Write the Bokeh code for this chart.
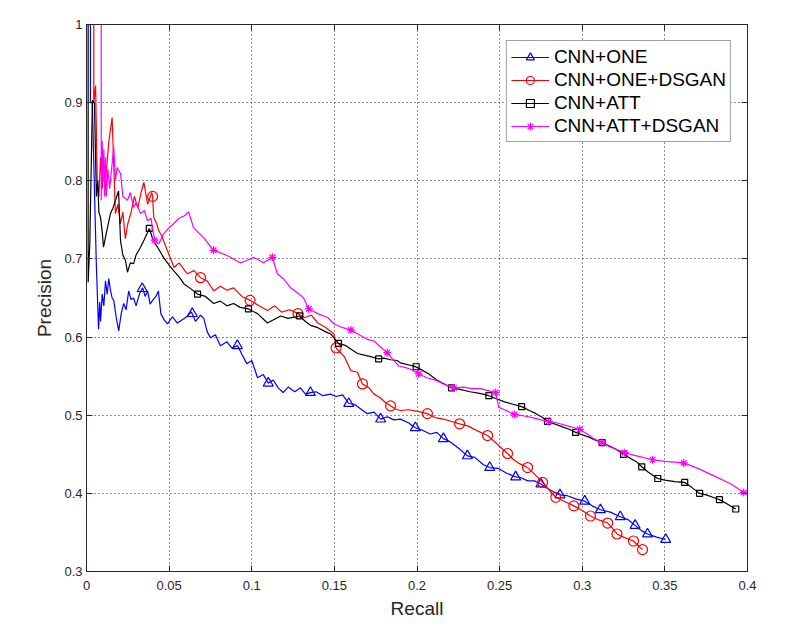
from bokeh.plotting import figure
from bokeh.models import LinearAxis, Range1d, FixedTicker, Legend
from bokeh.embed import file_html
from bokeh.resources import INLINE

# ---------------- data ----------------
x_ticks = [0, 0.05, 0.1, 0.15, 0.2, 0.25, 0.3, 0.35, 0.4]
y_ticks = [0.3, 0.4, 0.5, 0.6, 0.7, 0.8, 0.9, 1.0]
x_tick_labels = ["0", "0.05", "0.1", "0.15", "0.2", "0.25", "0.3", "0.35", "0.4"]
y_tick_labels = ["0.3", "0.4", "0.5", "0.6", "0.7", "0.8", "0.9", "1"]

series_names = ["CNN+ONE", "CNN+ONE+DSGAN", "CNN+ATT", "CNN+ATT+DSGAN"]

# CNN+ONE
one_recall = [0.0024, 0.0024, 0.0035, 0.0055, 0.006, 0.0073, 0.0080, 0.0085, 0.0095, 0.0105,
              0.0115, 0.0125, 0.0135, 0.0145, 0.0155, 0.0165, 0.018, 0.0195, 0.021, 0.0225,
              0.024, 0.0255, 0.027, 0.0285, 0.030, 0.032, 0.034, 0.0355, 0.037, 0.0385,
              0.040, 0.042, 0.0435, 0.045, 0.047, 0.049, 0.052, 0.055, 0.057, 0.060,
              0.0635, 0.066, 0.069, 0.071, 0.073, 0.075, 0.078, 0.081, 0.085, 0.088,
              0.0915, 0.094, 0.097, 0.100, 0.1035, 0.107, 0.110, 0.113, 0.116, 0.119,
              0.122, 0.126, 0.1295, 0.1325, 0.1355, 0.139, 0.143, 0.1477, 0.151, 0.155,
              0.1587, 0.162, 0.166, 0.170, 0.174, 0.178, 0.182, 0.186, 0.190, 0.195,
              0.199, 0.203, 0.208, 0.212, 0.216, 0.220, 0.225, 0.2305, 0.235, 0.240,
              0.244, 0.249, 0.254, 0.2597, 0.263, 0.267, 0.271, 0.275, 0.280, 0.2865,
              0.291, 0.296, 0.3015, 0.306, 0.311, 0.317, 0.323, 0.328, 0.332, 0.336,
              0.3395, 0.345, 0.3505]
one_precision = [1.0, 0.90, 0.90, 0.73, 0.69, 0.61, 0.645, 0.62, 0.655, 0.64,
                 0.672, 0.655, 0.675, 0.660, 0.650, 0.647, 0.625, 0.608, 0.630, 0.643,
                 0.635, 0.659, 0.648, 0.650, 0.640, 0.655, 0.663, 0.652, 0.659, 0.642,
                 0.647, 0.652, 0.659, 0.630, 0.622, 0.617, 0.626, 0.618, 0.621, 0.625,
                 0.632, 0.620, 0.628, 0.624, 0.607, 0.599, 0.603, 0.589, 0.594, 0.586,
                 0.589, 0.578, 0.566, 0.570, 0.548, 0.552, 0.541, 0.545, 0.535, 0.529,
                 0.536, 0.530, 0.535, 0.527, 0.529, 0.530, 0.525, 0.527, 0.524, 0.526,
                 0.515, 0.514, 0.508, 0.502, 0.504, 0.495, 0.498, 0.494, 0.495, 0.490,
                 0.484, 0.481, 0.476, 0.478, 0.470, 0.466, 0.458, 0.448, 0.446, 0.437,
                 0.433, 0.432, 0.426, 0.421, 0.420, 0.416, 0.416, 0.412, 0.405, 0.398,
                 0.397, 0.393, 0.390, 0.384, 0.379, 0.376, 0.370, 0.366, 0.359, 0.352,
                 0.348, 0.344, 0.341]
one_mark_recall = [0.0337, 0.064, 0.0913, 0.110, 0.1355, 0.1587, 0.178, 0.199, 0.216, 0.2305,
                   0.244, 0.2597, 0.275, 0.2865, 0.3015, 0.311, 0.323, 0.332, 0.3395, 0.3505]
one_mark_precision = [0.662, 0.630, 0.589, 0.541, 0.529, 0.515, 0.495, 0.484, 0.470, 0.448,
                      0.433, 0.421, 0.412, 0.398, 0.390, 0.379, 0.370, 0.359, 0.348, 0.341]

# CNN+ONE+DSGAN
one_gan_recall = [0.0044, 0.0044, 0.0055, 0.0065, 0.0075, 0.0085, 0.0095, 0.0105, 0.0115, 0.0135,
                  0.0155, 0.0175, 0.019, 0.0205, 0.0220, 0.0235, 0.025, 0.027, 0.029, 0.031,
                  0.033, 0.0347, 0.037, 0.0395, 0.0400, 0.0407, 0.0425, 0.0437, 0.0455, 0.0467,
                  0.050, 0.053, 0.056, 0.061, 0.065, 0.069, 0.073, 0.077, 0.081, 0.085,
                  0.089, 0.094, 0.099, 0.1045, 0.1095, 0.114, 0.118, 0.123, 0.128, 0.132,
                  0.136, 0.140, 0.145, 0.1497, 0.151, 0.156, 0.160, 0.164, 0.167, 0.171,
                  0.174, 0.178, 0.181, 0.184, 0.187, 0.190, 0.195, 0.2005, 0.2063, 0.211,
                  0.216, 0.221, 0.2258, 0.231, 0.2365, 0.2427, 0.247, 0.251, 0.2548, 0.258,
                  0.262, 0.2669, 0.271, 0.276, 0.280, 0.284, 0.289, 0.2949, 0.300, 0.305,
                  0.310, 0.3154, 0.318, 0.321, 0.326, 0.331, 0.334, 0.3365]
one_gan_precision = [1.0, 0.90, 0.922, 0.80, 0.78, 0.83, 0.79, 0.82, 0.80, 0.85,
                     0.881, 0.758, 0.77, 0.745, 0.760, 0.726, 0.745, 0.76, 0.78, 0.765,
                     0.785, 0.798, 0.770, 0.785, 0.780, 0.753, 0.745, 0.736, 0.730, 0.723,
                     0.705, 0.689, 0.695, 0.681, 0.685, 0.676, 0.672, 0.659, 0.665, 0.660,
                     0.663, 0.652, 0.647, 0.640, 0.634, 0.640, 0.632, 0.635, 0.630, 0.625,
                     0.628, 0.618, 0.612, 0.604, 0.586, 0.575, 0.557, 0.555, 0.540, 0.535,
                     0.527, 0.522, 0.516, 0.512, 0.508, 0.506, 0.507, 0.505, 0.502, 0.497,
                     0.495, 0.492, 0.489, 0.486, 0.480, 0.474, 0.466, 0.458, 0.451, 0.444,
                     0.438, 0.433, 0.425, 0.414, 0.404, 0.395, 0.390, 0.384, 0.378, 0.371,
                     0.366, 0.362, 0.356, 0.348, 0.343, 0.339, 0.333, 0.328]
one_gan_mark_recall = [0.040, 0.069, 0.099, 0.128, 0.151, 0.167, 0.184, 0.2063, 0.2258, 0.2427,
                       0.2548, 0.2669, 0.276, 0.284, 0.2949, 0.305, 0.3154, 0.321, 0.331, 0.3365]
one_gan_mark_precision = [0.780, 0.676, 0.647, 0.630, 0.586, 0.540, 0.512, 0.502, 0.489, 0.474,
                          0.451, 0.433, 0.414, 0.395, 0.384, 0.371, 0.362, 0.348, 0.339, 0.328]

# CNN+ATT
att_recall = [0.001, 0.001, 0.002, 0.0036, 0.0048, 0.006, 0.0068, 0.0075, 0.0085, 0.0095,
              0.0103, 0.0115, 0.0127, 0.0145, 0.016, 0.0175, 0.0194, 0.0206, 0.022, 0.0236,
              0.0248, 0.0265, 0.0285, 0.030, 0.0327, 0.035, 0.038, 0.0405, 0.043, 0.0466,
              0.050, 0.0527, 0.056, 0.059, 0.063, 0.0672, 0.072, 0.077, 0.081, 0.085,
              0.089, 0.093, 0.098, 0.1035, 0.1095, 0.1175, 0.122, 0.129, 0.1325, 0.1356,
              0.140, 0.1445, 0.1477, 0.1525, 0.157, 0.161, 0.164, 0.168, 0.172, 0.1768,
              0.180, 0.184, 0.188, 0.190, 0.1995, 0.198, 0.202, 0.207, 0.212, 0.2165,
              0.2209, 0.226, 0.232, 0.238, 0.2435, 0.248, 0.253, 0.258, 0.2633, 0.268,
              0.272, 0.276, 0.279, 0.283, 0.288, 0.292, 0.296, 0.300, 0.304, 0.308,
              0.312, 0.316, 0.320, 0.325, 0.329, 0.333, 0.336, 0.340, 0.3457, 0.350,
              0.356, 0.362, 0.366, 0.371, 0.375, 0.379, 0.383, 0.388, 0.3929]
att_precision = [1.0, 0.67, 0.72, 0.903, 0.899, 0.78, 0.80, 0.76, 0.753, 0.735,
                 0.715, 0.728, 0.740, 0.758, 0.765, 0.775, 0.787, 0.723, 0.705, 0.698,
                 0.683, 0.695, 0.694, 0.705, 0.715, 0.725, 0.739, 0.723, 0.715, 0.702,
                 0.692, 0.685, 0.677, 0.668, 0.662, 0.655, 0.652, 0.643, 0.646, 0.640,
                 0.643, 0.638, 0.636, 0.630, 0.618, 0.627, 0.624, 0.627, 0.620, 0.615,
                 0.612, 0.607, 0.604, 0.592, 0.589, 0.583, 0.579, 0.577, 0.575, 0.572,
                 0.573, 0.571, 0.570, 0.567, 0.562, 0.563, 0.559, 0.553, 0.545, 0.540,
                 0.535, 0.533, 0.530, 0.528, 0.525, 0.521, 0.517, 0.514, 0.511, 0.506,
                 0.502, 0.497, 0.492, 0.489, 0.485, 0.482, 0.478, 0.475, 0.472, 0.468,
                 0.465, 0.461, 0.457, 0.450, 0.445, 0.440, 0.434, 0.427, 0.419, 0.417,
                 0.415, 0.414, 0.408, 0.400, 0.398, 0.395, 0.392, 0.386, 0.380]
att_mark_recall = [0.038, 0.0672, 0.098, 0.129, 0.1525, 0.1768, 0.1995, 0.2209, 0.2435, 0.2633,
                   0.279, 0.296, 0.312, 0.325, 0.336, 0.3457, 0.362, 0.371, 0.383, 0.3929]
att_mark_precision = [0.739, 0.655, 0.636, 0.627, 0.592, 0.572, 0.562, 0.535, 0.525, 0.511,
                      0.492, 0.478, 0.465, 0.450, 0.434, 0.419, 0.414, 0.400, 0.392, 0.380]

# CNN+ATT+DSGAN
att_gan_recall = [0.0089, 0.0089, 0.0095, 0.0100, 0.0105, 0.011, 0.0115, 0.012, 0.013, 0.014,
                  0.0165, 0.0175, 0.0185, 0.0206, 0.022, 0.0248, 0.0265, 0.0285, 0.030, 0.0327,
                  0.035, 0.0369, 0.039, 0.0412, 0.0437, 0.0466, 0.050, 0.0527, 0.056, 0.059,
                  0.0618, 0.0648, 0.068, 0.071, 0.0769, 0.081, 0.0853, 0.089, 0.093, 0.097,
                  0.101, 0.104, 0.107, 0.1125, 0.1155, 0.1195, 0.1235, 0.128, 0.1314, 0.1345,
                  0.140, 0.1459, 0.1497, 0.155, 0.160, 0.165, 0.170, 0.174, 0.178, 0.182,
                  0.186, 0.189, 0.193, 0.197, 0.201, 0.206, 0.211, 0.216, 0.2224, 0.228,
                  0.233, 0.2385, 0.2476, 0.2495, 0.254, 0.2591, 0.265, 0.270, 0.275, 0.2797,
                  0.285, 0.290, 0.2985, 0.303, 0.307, 0.3118, 0.316, 0.321, 0.3257, 0.331,
                  0.3426, 0.350, 0.3614, 0.370, 0.380, 0.390, 0.3977]
att_gan_precision = [1.0, 0.775, 0.851, 0.80, 0.84, 0.78, 0.83, 0.78, 0.815, 0.79,
                     0.843, 0.80, 0.817, 0.809, 0.78, 0.775, 0.785, 0.766, 0.772, 0.758,
                     0.762, 0.749, 0.752, 0.724, 0.719, 0.732, 0.740, 0.745, 0.752, 0.755,
                     0.760, 0.740, 0.733, 0.727, 0.711, 0.708, 0.704, 0.700, 0.695, 0.698,
                     0.702, 0.699, 0.695, 0.702, 0.681, 0.674, 0.663, 0.656, 0.650, 0.636,
                     0.630, 0.625, 0.617, 0.612, 0.609, 0.603, 0.597, 0.595, 0.587, 0.580,
                     0.570, 0.563, 0.561, 0.558, 0.553, 0.548, 0.545, 0.540, 0.535, 0.536,
                     0.534, 0.534, 0.529, 0.510, 0.506, 0.501, 0.499, 0.497, 0.494, 0.492,
                     0.490, 0.487, 0.482, 0.476, 0.470, 0.465, 0.460, 0.456, 0.452, 0.449,
                     0.443, 0.441, 0.439, 0.432, 0.422, 0.412, 0.401]
att_gan_mark_recall = [0.0412, 0.0769, 0.1125, 0.1345, 0.160, 0.182, 0.201, 0.2224, 0.2476,
                       0.2591, 0.2797, 0.2985, 0.3118, 0.3257, 0.3426, 0.3614, 0.3977]
att_gan_mark_precision = [0.724, 0.711, 0.702, 0.636, 0.609, 0.580, 0.553, 0.535, 0.529,
                          0.501, 0.492, 0.482, 0.465, 0.452, 0.443, 0.439, 0.401]

# ---------------- figure ----------------
FONT = "Liberation Sans"
AX = "#262626"

p = figure(frame_width=661, frame_height=547,
           x_range=Range1d(0, 0.4), y_range=Range1d(0.3, 1.0),
           output_backend="svg", toolbar_location=None,
           min_border_left=86, min_border_right=40, min_border_top=24, min_border_bottom=52,
           background_fill_color="white", border_fill_color="white")
p.outline_line_color = AX
p.outline_line_width = 1

x_label_map = {t: l for t, l in zip(x_ticks, x_tick_labels)}
y_label_map = {t: l for t, l in zip(y_ticks, y_tick_labels)}

for ax in p.xaxis:
    ax.ticker = FixedTicker(ticks=x_ticks)
    ax.major_label_overrides = x_label_map
    ax.axis_label = "Recall"
    ax.major_label_standoff = 9
    ax.axis_label_standoff = 5
for ax in p.yaxis:
    ax.ticker = FixedTicker(ticks=y_ticks)
    ax.major_label_overrides = y_label_map
    ax.axis_label = "Precision"
    ax.major_label_standoff = 4
    ax.axis_label_standoff = 6

top_ax = LinearAxis(ticker=FixedTicker(ticks=x_ticks))
right_ax = LinearAxis(ticker=FixedTicker(ticks=y_ticks))
p.add_layout(top_ax, "above")
p.add_layout(right_ax, "right")

for ax in p.axis:
    ax.axis_line_color = AX
    ax.major_tick_line_color = AX
    ax.major_tick_in = 6
    ax.major_tick_out = 0
    ax.minor_tick_line_color = None
    ax.major_label_text_font = FONT
    ax.major_label_text_font_size = "13px"
    ax.major_label_text_color = AX
    ax.axis_label_text_font = FONT
    ax.axis_label_text_font_size = "19px"
    ax.axis_label_text_font_style = "normal"
    ax.axis_label_text_color = AX
for ax in (top_ax, right_ax):
    ax.major_label_text_color = None

p.xgrid.ticker = FixedTicker(ticks=x_ticks)
p.ygrid.ticker = FixedTicker(ticks=y_ticks)
for g in (p.xgrid[0], p.ygrid[0]):
    g.grid_line_color = "#222222"
    g.grid_line_dash = "1 3"
    g.grid_line_width = 1

LW = 1.2
styles = [
    (one_recall, one_precision, one_mark_recall, one_mark_precision, "#0000FF", "triangle", 10),
    (one_gan_recall, one_gan_precision, one_gan_mark_recall, one_gan_mark_precision, "#FF0000", "circle", 10),
    (att_recall, att_precision, att_mark_recall, att_mark_precision, "#000000", "square", 6),
    (att_gan_recall, att_gan_precision, att_gan_mark_recall, att_gan_mark_precision, "#FF00FF", "asterisk", 8),
]

items = []
for name, (rx, py, mx, my, col, mk, sz) in zip(series_names, styles):
    r_line = p.line(rx, py, line_color=col, line_width=LW)
    r_mark = p.scatter(mx, my, marker=mk, size=sz, line_color=col,
                       fill_color=None, line_width=1.2)
    items.append((name, [r_line, r_mark]))

legend = Legend(items=items, location="top_right")
legend.margin = 16
legend.padding = 4
legend.spacing = 0
legend.label_height = 23
legend.glyph_height = 20
legend.glyph_width = 38
legend.label_standoff = 5
legend.label_text_font = FONT
legend.label_text_font_size = "19px"
legend.label_text_color = "#000000"
legend.border_line_color = "#444444"
legend.border_line_width = 1
legend.background_fill_alpha = 1
p.add_layout(legend, "center")

open("out.html", "w").write(file_html(p, INLINE))
